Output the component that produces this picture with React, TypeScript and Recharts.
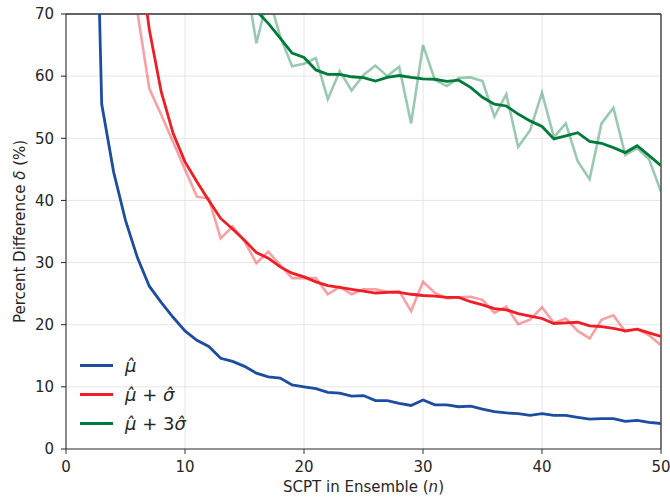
import React from "react";
import {
  CartesianGrid,
  Line,
  LineChart,
  ReferenceLine,
  XAxis,
  YAxis,
} from "recharts";

// ensemble size n
const nValues = [
  2, 3, 4, 5, 6, 7, 8, 9, 10, 11, 12, 13, 14, 15, 16, 17, 18, 19, 20, 21, 22,
  23, 24, 25, 26, 27, 28, 29, 30, 31, 32, 33, 34, 35, 36, 37, 38, 39, 40, 41,
  42, 43, 44, 45, 46, 47, 48, 49, 50,
];

const mu = [
  134, 55.5, 44.6, 36.8, 30.8, 26.2, 23.6, 21.2, 19.0, 17.5, 16.5, 14.6, 14.1,
  13.3, 12.2, 11.6, 11.4, 10.3, 10.0, 9.7, 9.1, 9.0, 8.5, 8.6, 7.8, 7.8, 7.35,
  7.0, 7.9, 7.1, 7.1, 6.8, 6.9, 6.4, 6.0, 5.8, 5.7, 5.4, 5.7, 5.4, 5.4, 5.1,
  4.8, 4.9, 4.9, 4.45, 4.6, 4.3, 4.1,
];

const muSigma = [
  null, null, null, null, 82, 67.5, 57.5, 50.8, 46.2, 43.0, 40.0, 37.1, 35.4,
  33.6, 31.6, 30.7, 29.3, 28.3, 27.7, 26.9, 26.3, 26.0, 25.7, 25.4, 25.1, 25.2,
  25.2, 24.9, 24.7, 24.6, 24.4, 24.4, 23.7, 23.2, 22.6, 22.4, 21.8, 21.4, 21.0,
  20.2, 20.3, 20.4, 19.8, 19.7, 19.4, 19.0, 19.3, 18.7, 18.1,
];

const muSigmaRaw = [
  null, null, null, 100, 70.3, 58.0, 53.8, 49.4, 45.0, 40.6, 40.3, 33.9, 35.8,
  33.4, 29.9, 31.75, 29.6, 27.5, 27.5, 27.5, 24.9, 26.1, 24.9, 25.7, 25.7, 25.3,
  25.4, 22.2, 26.9, 25.1, 24.25, 24.4, 24.5, 24.0, 21.9, 22.9, 20.1, 20.8, 22.8,
  20.3, 21.0, 19.0, 17.8, 20.8, 21.5, 18.9, 19.3, 18.3, 16.7,
];

const mu3Sigma = [
  null, null, null, null, null, null, null, null, null, null, null, null, null,
  75, 70.5, 68.5, 66.1, 63.7, 63.0, 61.0, 60.3, 60.3, 59.9, 59.75, 59.2, 59.8,
  60.1, 59.8, 59.55, 59.5, 59.15, 59.35, 58.2, 56.6, 55.5, 55.2, 53.9, 52.8,
  51.9, 49.9, 50.4, 50.9, 49.5, 49.2, 48.5, 47.7, 48.8, 47.2, 45.6,
];

const mu3SigmaRaw = [
  null, null, null, null, null, null, null, null, null, null, null, null, null,
  77, 65.3, 73, 66.4, 61.6, 62.0, 62.9, 56.3, 60.8, 57.7, 60.2, 61.7, 60.0,
  61.5, 52.4, 65.0, 59.4, 58.4, 59.7, 59.8, 59.2, 53.5, 57.1, 48.6, 51.3, 57.3,
  50.2, 52.4, 46.3, 43.4, 52.4, 54.9, 47.3, 48.4, 46.6, 41.4,
];

const xTicks = [0, 10, 20, 30, 40, 50];
const yTicks = [0, 10, 20, 30, 40, 50, 60, 70];

const data = nValues.map((n, i) => ({
  n,
  mu: mu[i],
  muSigma: muSigma[i],
  muSigmaRaw: muSigmaRaw[i],
  mu3Sigma: mu3Sigma[i],
  mu3SigmaRaw: mu3SigmaRaw[i],
}));

const FONT = "DejaVu Sans";
const BLUE = "#1c4da0";
const RED = "#ee1d26";
const GREEN = "#007a3b";

const legendItems = [
  { color: BLUE, label: <i>{"\u03bc\u0302"}</i> },
  {
    color: RED,
    label: (
      <>
        <i>{"\u03bc\u0302"}</i> + <i>{"\u03c3\u0302"}</i>
      </>
    ),
  },
  {
    color: GREEN,
    label: (
      <>
        <i>{"\u03bc\u0302"}</i> + 3<i>{"\u03c3\u0302"}</i>
      </>
    ),
  },
];

// legend sits inside the plot, lower left
const LegendBox = () => (
  <div
    style={{
      position: "absolute",
      left: 80,
      top: 351,
      fontFamily: FONT,
      fontSize: 18,
      color: "#262626",
    }}
  >
    {legendItems.map((it, i) => (
      <div
        key={i}
        style={{ display: "flex", alignItems: "center", height: 29 }}
      >
        <div
          style={{
            width: 33,
            height: 3,
            background: it.color,
            marginRight: 12,
          }}
        />
        <span style={{ whiteSpace: "pre" }}>{it.label}</span>
      </div>
    ))}
  </div>
);

const App = () => {
  return (
    <div style={{ position: "absolute", left: 0, top: 0, width: 670, height: 498 }}>
      <LineChart
        width={670}
        height={498}
        data={data}
        margin={{ top: 14, right: 9, left: 16, bottom: 19 }}
      >
        <CartesianGrid stroke="#e6e6e6" strokeWidth={1} />
        <XAxis
          dataKey="n"
          type="number"
          domain={[0, 50]}
          ticks={xTicks}
          allowDataOverflow
          height={30}
          stroke="#333"
          tickSize={5}
          tickMargin={7}
          tick={{ fill: "#262626", fontSize: 15, fontFamily: FONT }}
          label={({ viewBox }: any) => (
            <text
              x={viewBox.x + viewBox.width / 2}
              y={492}
              textAnchor="middle"
              fill="#262626"
              fontSize={15}
              fontFamily={FONT}
            >
              SCPT in Ensemble (<tspan fontStyle="italic">n</tspan>)
            </text>
          )}
        />
        <YAxis
          type="number"
          domain={[0, 70]}
          ticks={yTicks}
          allowDataOverflow
          width={50}
          stroke="#222"
          tickSize={5}
          tickMargin={7}
          tick={{ fill: "#262626", fontSize: 15, fontFamily: FONT }}
          label={({ viewBox }: any) => {
            const cy = viewBox.y + viewBox.height / 2;
            return (
              <text
                x={25}
                y={cy}
                transform={`rotate(-90, 25, ${cy})`}
                textAnchor="middle"
                fill="#262626"
                fontSize={15}
                fontFamily={FONT}
              >
                Percent Difference <tspan fontStyle="italic">{"\u03b4"}</tspan> (%)
              </text>
            );
          }}
        />
        <ReferenceLine y={70} stroke="#333" strokeWidth={1.3} />
        <ReferenceLine x={50} stroke="#333" strokeWidth={1.3} />
        <Line
          dataKey="muSigmaRaw"
          stroke={RED}
          strokeOpacity={0.42}
          strokeWidth={2.6}
          dot={false}
          isAnimationActive={false}
        />
        <Line
          dataKey="mu3SigmaRaw"
          stroke={GREEN}
          strokeOpacity={0.4}
          strokeWidth={2.6}
          dot={false}
          isAnimationActive={false}
        />
        <Line
          dataKey="mu"
          stroke={BLUE}
          strokeWidth={2.8}
          dot={false}
          isAnimationActive={false}
        />
        <Line
          dataKey="muSigma"
          stroke={RED}
          strokeWidth={2.8}
          dot={false}
          isAnimationActive={false}
        />
        <Line
          dataKey="mu3Sigma"
          stroke={GREEN}
          strokeWidth={2.8}
          dot={false}
          isAnimationActive={false}
        />
      </LineChart>
      <LegendBox />
    </div>
  );
};

export default App;
